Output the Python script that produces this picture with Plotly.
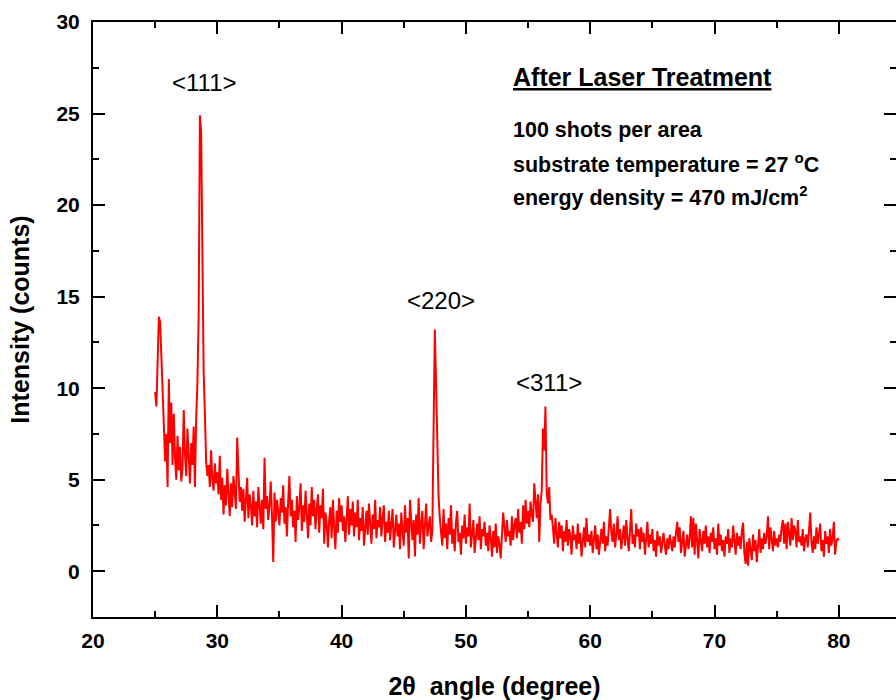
import plotly.graph_objects as go

# 2-theta scan: 25.0 .. 80.0 deg, step 0.1 deg
start_angle = 25.0
step_angle = 0.1

intensity_25_35 = [
    9.8, 9.0, 11.5, 13.9, 13.6, 12.0, 10.2, 8.0, 6.0, 7.5,
    4.6, 10.5, 7.0, 9.2, 5.8, 8.6, 6.2, 5.0, 7.4, 5.5,
    6.8, 4.9, 5.6, 8.8, 6.4, 5.2, 7.8, 6.0, 4.8, 7.0,
    5.8, 7.9, 4.6, 8.3, 10.3, 13.9, 24.9, 24.0, 16.3, 10.9,
    8.7, 6.0, 5.2, 5.8, 4.6, 6.6, 5.0, 4.4, 5.9, 4.8,
    5.4, 4.2, 6.3, 3.9, 5.1, 3.1, 4.7, 3.6, 5.6, 4.0,
    3.0, 4.8, 3.5, 5.2, 4.1, 3.4, 7.3, 5.0, 3.8, 4.6,
    3.3, 4.5, 2.7, 3.9, 5.1, 2.9, 4.2, 3.6, 2.5, 4.4,
    3.0, 3.8, 2.4, 4.6, 3.3, 2.6, 3.9, 2.3, 6.2, 3.4,
    4.1, 2.8, 3.6, 4.9, 3.0, 0.5, 4.3, 2.7, 3.9, 3.1,
]
intensity_35_45 = [
    2.5, 4.0, 3.2, 4.7, 2.6, 3.5, 1.9, 3.8, 5.2, 3.0,
    3.9, 2.4, 3.3, 1.6, 4.1, 2.8, 3.5, 4.8, 2.2, 3.6,
    2.7, 4.4, 3.1, 1.8, 3.7, 2.5, 4.6, 3.0, 3.9, 2.3,
    3.4, 4.2, 2.1, 3.6, 2.9, 4.5, 1.5, 3.2, 2.6, 1.3,
    2.8, 3.5, 1.8, 3.9, 2.4, 1.2, 3.3, 2.1, 4.0, 2.7,
    3.6, 2.2, 3.0, 1.6, 2.8, 4.1, 2.0, 3.4, 2.5, 3.8,
    1.9, 3.2, 2.4, 3.9, 1.7, 2.9, 2.2, 3.5, 1.4, 2.7,
    3.3, 2.0, 3.7, 2.6, 1.5, 3.1, 2.3, 3.9, 1.8, 2.8,
    2.4, 3.5, 1.9, 2.9, 3.6, 1.6, 2.7, 2.1, 3.3, 1.7,
    2.9, 3.4, 1.3, 2.5, 3.1, 1.9, 2.6, 1.2, 3.2, 2.2,
]
intensity_45_55 = [
    1.4, 3.6, 2.1, 2.9, 0.7, 3.9, 2.4, 1.7, 2.8, 0.8,
    3.1, 2.0, 4.0, 1.5, 2.6, 3.3, 1.2, 2.8, 3.7, 1.9,
    2.5, 3.0, 1.6, 2.2, 7.8, 13.2, 10.2, 7.0, 4.1, 2.9,
    2.2, 1.4, 3.4, 1.8, 2.6, 1.2, 2.9, 2.0, 3.6, 1.5,
    2.3, 1.1, 2.7, 3.3, 1.6, 2.1, 0.9, 2.5, 1.8, 3.1,
    1.5, 2.4, 1.9, 3.7, 1.3, 2.2, 2.8, 1.0, 2.0, 2.6,
    1.7, 3.0, 1.2, 2.3, 1.9, 2.7, 1.4, 2.1, 1.1, 2.5,
    1.8, 0.8, 2.2, 1.3, 2.6, 1.0, 1.9, 1.5, 0.7, 2.0,
    3.2, 2.4, 1.6, 2.8, 1.9, 2.2, 1.4, 3.0, 1.7, 2.5,
    2.9, 1.8, 3.4, 2.1, 2.7, 1.5, 3.6, 2.3, 3.9, 2.6,
]
intensity_55_65 = [
    3.3, 2.4, 3.8, 3.1, 2.7, 4.8, 3.5, 2.9, 4.2, 1.6,
    3.7, 4.4, 7.8, 6.6, 9.0, 4.3, 3.7, 4.6, 2.8, 3.1,
    2.4, 1.5, 2.9, 2.1, 1.3, 2.7, 1.8, 2.5, 1.1, 2.2,
    1.6, 2.8, 1.4, 2.3, 1.9, 0.9, 2.5, 1.7, 2.0, 1.2,
    2.6, 1.5, 2.1, 0.8, 1.8, 2.4, 1.3, 2.9, 1.6, 2.0,
    1.4, 2.2, 1.0, 1.7, 2.5, 1.2, 2.0, 0.9, 1.8, 2.3,
    1.5, 2.7, 1.1, 1.9, 1.4, 2.4, 3.4, 2.1, 1.6, 2.6,
    1.3, 2.0, 3.0, 1.7, 2.3, 1.2, 1.9, 2.5, 1.4, 2.8,
    1.8, 1.1, 2.2, 3.4, 1.5, 2.0, 1.3, 2.6, 1.9, 2.3,
    1.2, 2.4, 1.6, 2.1, 0.9, 1.8, 2.7, 1.3, 2.0, 1.5,
]
intensity_65_80 = [
    2.3, 1.1, 1.7, 0.8, 2.2, 1.4, 1.9, 1.0, 1.6, 2.1,
    1.4, 0.9, 1.8, 1.2, 2.0, 1.5, 1.1, 1.9, 1.3, 2.1,
    2.7, 1.6, 2.4, 1.0, 1.7, 2.2, 0.8, 1.5, 2.0, 1.2,
    1.8, 3.0, 1.3, 2.9, 0.9, 2.6, 1.4, 0.7, 2.3, 1.6,
    1.1, 2.2, 1.5, 2.5, 1.3, 1.9, 1.0, 2.1, 1.6, 2.4,
    1.2, 1.8, 0.9, 2.6, 1.4, 2.0, 1.1, 1.7, 0.8, 1.9,
    1.5, 2.3, 1.0, 1.8, 1.3, 2.5, 1.7, 0.9, 2.1, 1.4,
    1.9, 1.2, 2.2, 2.65, 1.0, 0.4, 1.6, 0.3, 1.8, 1.3,
    0.6, 2.0, 1.1, 1.7, 0.5, 1.4, 2.3, 1.0, 1.8, 1.2,
    2.1, 1.5, 1.9, 3.0, 1.2, 2.4, 1.6, 1.1, 2.2, 1.4,
    1.8, 1.3, 2.0, 1.6, 2.4, 2.8, 1.5, 2.6, 1.2, 2.7,
    2.1, 1.4, 2.9, 1.7, 2.5, 2.2, 1.3, 2.8, 1.6, 1.9,
    1.4, 2.3, 1.1, 1.8, 2.0, 1.3, 2.2, 3.2, 1.6, 1.0,
    1.9, 1.2, 2.4, 1.5, 2.0, 2.6, 1.1, 1.7, 0.8, 2.2,
    1.5, 1.9, 1.0, 2.3, 1.4, 1.8, 2.7, 0.9, 1.6, 1.8,
    1.7,
]

intensity = intensity_25_35 + intensity_35_45 + intensity_45_55 + intensity_55_65 + intensity_65_80
angles = [round(start_angle + step_angle * i, 2) for i in range(len(intensity))]

peak_labels = ["<111>", "<220>", "<311>"]
peak_label_x = [29.0, 48.0, 56.7]
peak_label_y = [26.7, 14.8, 10.3]

title_text = "After Laser Treatment"
info_lines = [
    "100 shots per area",
    "substrate temperature = 27 <sup>o</sup>C",
    "energy density = 470 mJ/cm<sup>2</sup>",
]
info_y = [24.1, 22.3, 20.5]

FONT = "Liberation Sans, Arial, sans-serif"

fig = go.Figure()
fig.add_trace(go.Scatter(
    x=angles, y=intensity, mode="lines",
    line=dict(color="#ff0000", width=2),
    showlegend=False, hoverinfo="skip",
))

for t, x, y in zip(peak_labels, peak_label_x, peak_label_y):
    fig.add_annotation(x=x, y=y, text=t, showarrow=False,
                       font=dict(family=FONT, size=24, color="black"),
                       xanchor="center", yanchor="middle")

fig.add_annotation(x=53.6, y=27.0, text="<u><b>" + title_text + "</b></u>", showarrow=False,
                   font=dict(family=FONT, size=25, color="black"),
                   xanchor="left", yanchor="middle")
for t, y in zip(info_lines, info_y):
    fig.add_annotation(x=53.6, y=y, text="<b>" + t + "</b>", showarrow=False,
                       font=dict(family=FONT, size=21.5, color="black"),
                       xanchor="left", yanchor="middle")

axis_common = dict(
    showline=True, linecolor="black", linewidth=2, mirror="ticks",
    ticks="inside", ticklen=12, tickwidth=2, tickcolor="black",
    showgrid=False, zeroline=False,
    tickfont=dict(family=FONT, size=21, color="black", weight="bold"),
)

fig.update_xaxes(
    range=[20, 84.6], dtick=10, tick0=20,
    minor=dict(dtick=5, ticks="inside", ticklen=6, tickwidth=2, tickcolor="black"),
    ticklabelstandoff=4,
    title=dict(text="2θ  angle (degree)", font=dict(family=FONT, size=25, color="black", weight="bold"),
               standoff=26),
    **axis_common,
)
fig.update_yaxes(
    range=[-2.5, 30], dtick=5, tick0=0,
    minor=dict(dtick=2.5, ticks="inside", ticklen=6, tickwidth=2, tickcolor="black"),
    ticklabelstandoff=7,
    title=dict(text="Intensity (counts)", font=dict(family=FONT, size=25, color="black", weight="bold"),
               standoff=20),
    **axis_common,
)

fig.update_layout(
    width=896, height=700,
    margin=dict(l=93, r=0, t=22, b=82.5, autoexpand=False),
    paper_bgcolor="white", plot_bgcolor="white",
)

fig.write_html("out.html")
